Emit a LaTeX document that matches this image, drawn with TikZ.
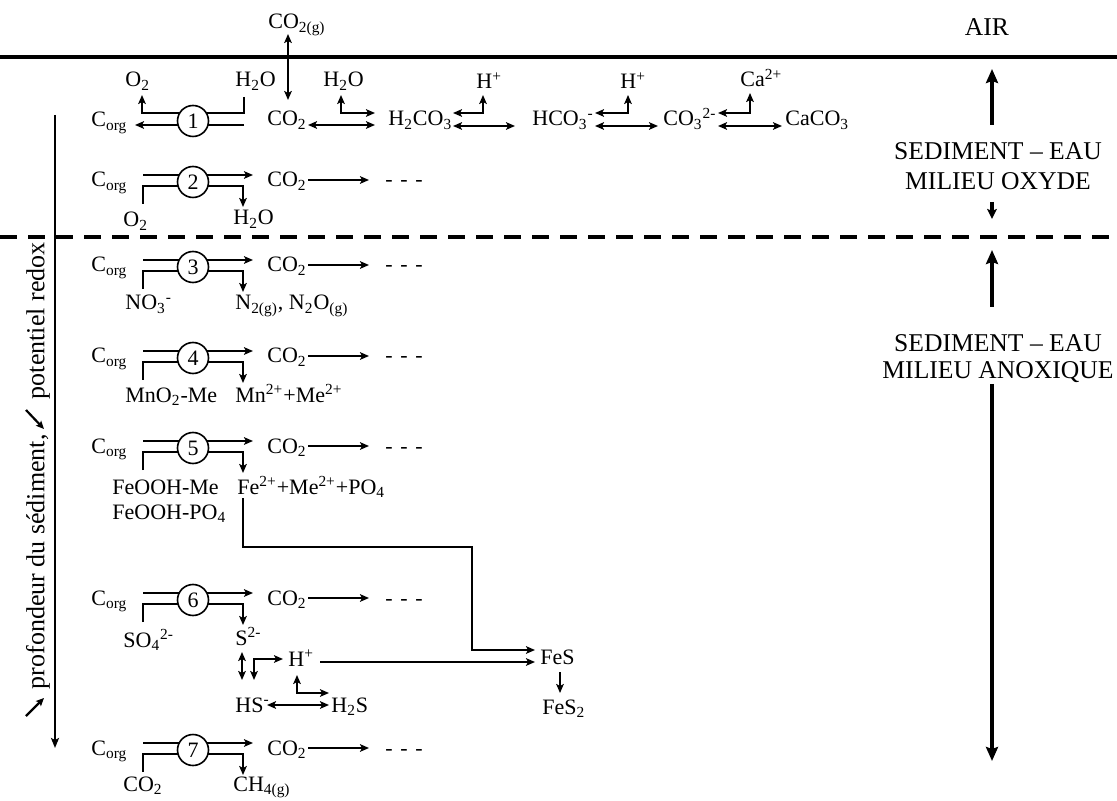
\documentclass[tikz,border=0pt]{standalone}
\usepackage{fontspec}
\setmainfont{Liberation Serif}
\usetikzlibrary{arrows.meta}
\begin{document}
\begin{tikzpicture}[x=0.5pt,y=-0.5pt,
  lbl/.style={inner sep=0pt,anchor=base west,font=\fontsize{11}{13}\selectfont},
  big/.style={inner sep=0pt,anchor=base,font=\fontsize{12.8}{15}\selectfont},
  side/.style={inner sep=0pt,rotate=90,anchor=east,font=\fontsize{13}{15}\selectfont},
  rxn/.style={draw,circle,minimum size=15.5pt,inner sep=0pt,line width=0.8pt,fill=white,font=\fontsize{11}{13}\selectfont},
  ln/.style={line width=0.9pt},
  ar/.style={ln,-{Stealth[length=4.5pt,width=3.8pt,inset=1pt]}},
  lr/.style={ln,{Stealth[length=4.5pt,width=3.8pt,inset=1pt]}-{Stealth[length=4.5pt,width=3.8pt,inset=1pt]}},
  bar/.style={line width=2.2pt,-{Stealth[length=7pt,width=6pt,inset=1pt]}},
  smallbar/.style={line width=2pt,-{Stealth[length=5pt,width=4.8pt,inset=1pt]}},
  axis/.style={line width=1pt,-{Stealth[length=5pt,width=4pt,inset=1pt]}},
  tilt/.style={line width=1.1pt,-{Stealth[length=4pt,width=3.6pt,inset=0.8pt]}},
]
\useasboundingbox (0,0) rectangle (1117,801);
\fill[white] (0,0) rectangle (1117,801);

% boundaries
\coordinate (surfL) at (0,57); \coordinate (surfR) at (1117,57);
\draw[line width=2pt] (surfL) -- (surfR);
\coordinate (redL) at (0,237); \coordinate (redR) at (1117,237);
\draw[line width=2pt,dash pattern=on 8.5pt off 5.5pt] (redL) -- (redR);

% right side
\node[big] (air) at (987,36) {AIR};
\node[big] (sed1) at (998,160) {SEDIMENT – EAU};
\node[big] (mil1) at (998,190) {MILIEU OXYDE};
\coordinate (a1s) at (992,125); \coordinate (a1e) at (992,69);
\draw[bar] (a1s) -- (a1e);
\coordinate (a2s) at (992,202); \coordinate (a2e) at (992,219);
\draw[smallbar] (a2s) -- (a2e);
\coordinate (a3s) at (992,307); \coordinate (a3e) at (992,250);
\draw[bar] (a3s) -- (a3e);
\node[big] (sed2) at (998,352) {SEDIMENT – EAU};
\node[big] (mil2) at (998,379) {MILIEU ANOXIQUE};
\coordinate (a4s) at (992,384); \coordinate (a4e) at (992,761);
\draw[bar] (a4s) -- (a4e);

% left axis
\coordinate (axT) at (55,115); \coordinate (axB) at (55,748);
\draw[axis] (axT) -- (axB);
\node[side] (pot) at (38,242) {potentiel redox};
\node[side] (prof) at (38,434) {profondeur du sédiment,};
\coordinate (t1a) at (26,410); \coordinate (t1b) at (44,429);
\draw[tilt] (t1a) -- (t1b);
\coordinate (t2a) at (26,716); \coordinate (t2b) at (44,698);
\draw[tilt] (t2a) -- (t2b);

% ---------- row 1 ----------
\node[lbl] (corg1) at (91,127) {C\textsubscript{org}};
\node[lbl] (o2a) at (125,87) {O\textsubscript{2}};
\node[lbl] (h2oa) at (235,87) {H\textsubscript{2}O};
\coordinate (u1a) at (244,97); \coordinate (u1b) at (244,113);
\coordinate (u1c) at (142,113); \coordinate (u1d) at (142,95);
\draw[ar] (u1a) -- (u1b) -- (u1c) -- (u1d);
\coordinate (l1a) at (244,125); \coordinate (l1b) at (135,125);
\draw[ar] (l1a) -- (l1b);
\node[rxn] (r1) at (193,121) {1};
\node[lbl] (co2a) at (267,126) {CO\textsubscript{2}};
\node[lbl] (co2g) at (268,29) {CO\textsubscript{2(g)}};
\coordinate (g1) at (288,100); \coordinate (g2) at (288,34);
\draw[lr] (g1) -- (g2);
\coordinate (e1) at (308,125); \coordinate (e2) at (375,125);
\draw[lr] (e1) -- (e2);
\node[lbl] (h2ob) at (323,87) {H\textsubscript{2}O};
\coordinate (w1) at (341,95); \coordinate (w2) at (341,113); \coordinate (w3) at (375,113);
\draw[lr] (w1) -- (w2) -- (w3);
\node[lbl] (h2co3) at (388,126) {H\textsubscript{2}CO\textsubscript{3}};
\coordinate (p1a) at (453,113); \coordinate (p1b) at (483,113); \coordinate (p1c) at (483,95);
\draw[lr] (p1a) -- (p1b) -- (p1c);
\node[lbl] (hp1) at (476,89) {H\textsuperscript{+}};
\coordinate (q1a) at (453,126); \coordinate (q1b) at (515,126);
\draw[lr] (q1a) -- (q1b);
\node[lbl] (hco3) at (532,126) {HCO\textsubscript{3}\textsuperscript{-}};
\coordinate (p2a) at (595,113); \coordinate (p2b) at (628,113); \coordinate (p2c) at (628,95);
\draw[lr] (p2a) -- (p2b) -- (p2c);
\node[lbl] (hp2) at (620,89) {H\textsuperscript{+}};
\coordinate (q2a) at (595,126); \coordinate (q2b) at (658,126);
\draw[lr] (q2a) -- (q2b);
\node[lbl] (co3) at (663,126) {CO\textsubscript{3}\textsuperscript{2-}};
\coordinate (p3a) at (718,113); \coordinate (p3b) at (750,113); \coordinate (p3c) at (750,93);
\draw[lr] (p3a) -- (p3b) -- (p3c);
\node[lbl] (ca) at (740,87) {Ca\textsuperscript{2+}};
\coordinate (q3a) at (718,126); \coordinate (q3b) at (782,126);
\draw[lr] (q3a) -- (q3b);
\node[lbl] (caco3) at (785,126) {CaCO\textsubscript{3}};

% ---------- rows 2-7 ----------
\foreach \n/\cy in {2/182,3/267,4/358,5/448,6/600,7/750}{
  \node[lbl] (corg\n) at (91,\cy+5) {C\textsubscript{org}};
  \coordinate (ua\n) at (143,\cy-7);
  \coordinate (ub\n) at (253,\cy-7);
  \draw[ar] (ua\n) -- (ub\n);
  \coordinate (ra\n) at (143,\cy+22);
  \coordinate (la\n) at (143,\cy+4);
  \coordinate (lb\n) at (243,\cy+4);
  \coordinate (pb\n) at (243,\cy+25);
  \draw[ar] (ra\n) -- (la\n) -- (lb\n) -- (pb\n);
  \node[rxn] (r\n) at (193,\cy) {\n};
  \node[lbl] (cot\n) at (267,\cy+5) {CO\textsubscript{2}};
  \coordinate (ca\n) at (308,\cy-2);
  \coordinate (cb\n) at (369,\cy-2);
  \draw[ar] (ca\n) -- (cb\n);
  \node[lbl] (dd\n) at (385,\cy+5) {-\hspace{0.35em}-\hspace{0.35em}-};
}

% reactants / products
\node[lbl] (o2b) at (123,227) {O\textsubscript{2}};
\node[lbl] (h2oc) at (233,225) {H\textsubscript{2}O};
\node[lbl] (no3) at (125,310) {NO\textsubscript{3}\textsuperscript{-}};
\node[lbl] (n2) at (235,310) {N\textsubscript{2(g)}, N\textsubscript{2}O\textsubscript{(g)}};
\node[lbl] (mno2) at (125,402) {MnO\textsubscript{2}-Me};
\node[lbl] (mn) at (235,402) {Mn\textsuperscript{2+}+Me\textsuperscript{2+}};
\node[lbl] (feme) at (112,494) {FeOOH-Me};
\node[lbl] (fepo) at (112,519) {FeOOH-PO\textsubscript{4}};
\node[lbl] (fe) at (237,494) {Fe\textsuperscript{2+}+Me\textsuperscript{2+}+PO\textsubscript{4}};
\node[lbl] (so4) at (123,647) {SO\textsubscript{4}\textsuperscript{2-}};
\node[lbl] (s2) at (235,645) {S\textsuperscript{2-}};
\node[lbl] (co2r) at (123,791) {CO\textsubscript{2}};
\node[lbl] (ch4) at (233,791) {CH\textsubscript{4(g)}};

% sulfur / iron chemistry
\node[lbl] (hp3) at (288,666) {H\textsuperscript{+}};
\node[lbl] (hs) at (235,712) {HS\textsuperscript{-}};
\node[lbl] (h2s) at (331,712) {H\textsubscript{2}S};
\node[lbl] (fes) at (540,664) {FeS};
\node[lbl] (fes2) at (542,714) {FeS\textsubscript{2}};
\coordinate (sa) at (242,652); \coordinate (sb) at (242,680);
\draw[lr] (sa) -- (sb);
\coordinate (sc) at (254,680); \coordinate (sd) at (254,659); \coordinate (se) at (283,659);
\draw[lr] (sc) -- (sd) -- (se);
\coordinate (ha) at (267,705); \coordinate (hb) at (329,705);
\draw[lr] (ha) -- (hb);
\coordinate (hc) at (297,675); \coordinate (hd) at (297,693); \coordinate (he) at (329,693);
\draw[lr] (hc) -- (hd) -- (he);
\coordinate (fa) at (243,498); \coordinate (fb) at (243,547);
\coordinate (fc) at (472,547); \coordinate (fd) at (472,650); \coordinate (fe2) at (535,650);
\draw[ar] (fa) -- (fb) -- (fc) -- (fd) -- (fe2);
\coordinate (ka) at (320,662); \coordinate (kb) at (535,662);
\draw[ar] (ka) -- (kb);
\coordinate (fs1) at (560,672); \coordinate (fs2) at (560,693);
\draw[ar] (fs1) -- (fs2);
\end{tikzpicture}
\end{document}
